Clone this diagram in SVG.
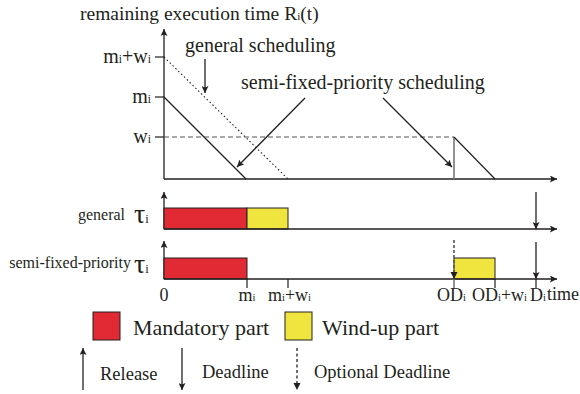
<svg xmlns="http://www.w3.org/2000/svg" width="580" height="394" viewBox="0 0 580 394" font-family="'Liberation Serif','Times New Roman',serif">
<defs>
<marker id="ah" viewBox="0 0 10 10" refX="10" refY="5" markerWidth="7" markerHeight="7" markerUnits="userSpaceOnUse" orient="auto">
<path d="M0,0 L10,5 L0,10 L2,5 Z" fill="#231f20"/>
</marker>
<style>
text{font-family:"Liberation Serif","Times New Roman",serif;fill:#231f20}
.ln{stroke:#231f20;stroke-width:1.2;fill:none}
.ax{stroke:#231f20;stroke-width:1.3;fill:none;marker-end:url(#ah)}
.gr{stroke:#777;stroke-width:1.6;fill:none}
.dash{stroke:#555;stroke-width:1.2;stroke-dasharray:5,3;fill:none}
.dot{stroke:#231f20;stroke-width:1.1;stroke-dasharray:1.5,2.5;fill:none}
.red{fill:#e12a33;stroke:#231f20;stroke-width:1}
.yel{fill:#efe53e;stroke:#231f20;stroke-width:1}
.sub{font-size:0.58em}
.t20{font-size:20px}
.t18{font-size:18px}
.t16{font-size:16px}
.tau{font-size:28px}
.tau .sub{font-size:0.45em}
</style>
</defs>

<g id="top-chart">
<line class="ax" x1="164" y1="179" x2="164" y2="29"/>
<line class="ax" x1="164" y1="179" x2="557" y2="179"/>
<line class="ln" x1="155" y1="57" x2="164" y2="57"/>
<line class="ln" x1="155" y1="97" x2="164" y2="97"/>
<line class="ln" x1="155" y1="137" x2="164" y2="137"/>
<line class="dot" x1="164" y1="57" x2="288" y2="179"/>
<line class="ln" x1="164" y1="97" x2="246" y2="179"/>
<line class="dash" x1="164" y1="137" x2="454" y2="137"/>
<line class="gr" x1="454" y1="137" x2="454" y2="179"/>
<line class="ln" x1="454" y1="137" x2="495" y2="179"/>
<text x="80" y="20" style="font-size:19.5px">remaining execution time R<tspan class="sub">i</tspan>(t)</text>
<text class="t20" x="151" y="63" text-anchor="end">m<tspan class="sub">i</tspan>+w<tspan class="sub">i</tspan></text>
<text class="t20" x="151" y="103" text-anchor="end">m<tspan class="sub">i</tspan></text>
<text class="t20" x="151" y="143" text-anchor="end">w<tspan class="sub">i</tspan></text>
</g>

<g id="label-general-scheduling">
<text class="t20" x="185" y="52">general scheduling</text>
</g>
<g id="label-semi-fixed">
<text class="t20" x="241" y="89">semi-fixed-priority scheduling</text>
</g>

<g id="general-timeline">
<line class="ax" x1="164" y1="229" x2="164" y2="192"/>
<rect class="red" x="164" y="208" width="83" height="21"/>
<rect class="yel" x="247" y="208" width="41" height="21"/>
<line class="ax" x1="164" y1="229" x2="557" y2="229"/>
<text class="t16" x="125" y="220" text-anchor="end">general</text>
<text class="tau" x="134" y="223">τ<tspan class="sub">i</tspan></text>
</g>

<g id="semi-fixed-timeline">
<line class="ax" x1="164" y1="279" x2="164" y2="241"/>
<rect class="red" x="164" y="258" width="83" height="21"/>
<rect class="yel" x="454" y="258" width="41" height="21"/>
<line class="ax" x1="164" y1="279" x2="557" y2="279"/>
<line class="ln" x1="247" y1="279" x2="247" y2="288"/>
<line class="ln" x1="288" y1="279" x2="288" y2="288"/>
<line class="gr" x1="454" y1="279" x2="454" y2="288"/>
<line class="ln" x1="495" y1="279" x2="495" y2="288"/>
<line class="ln" x1="536" y1="279" x2="536" y2="288"/>
<text class="t16" x="131" y="268" text-anchor="end">semi-fixed-priority</text>
<text class="tau" x="134" y="273">τ<tspan class="sub">i</tspan></text>
<text class="t18" x="164" y="301" text-anchor="middle">0</text>
<text class="t18" x="247" y="301" text-anchor="middle">m<tspan class="sub">i</tspan></text>
<text class="t18" x="268" y="301">m<tspan class="sub">i</tspan>+w<tspan class="sub">i</tspan></text>
<text class="t18" x="437" y="301">OD<tspan class="sub">i</tspan></text>
<text class="t18" x="472" y="301">OD<tspan class="sub">i</tspan>+w<tspan class="sub">i</tspan></text>
<text class="t18" x="530" y="301">D<tspan class="sub">i</tspan></text>
<text class="t18" x="547" y="300">time</text>
</g>

<g id="connectors">
<line class="ax" x1="205" y1="59" x2="205" y2="93"/>
<line class="ax" x1="305" y1="98" x2="237" y2="167"/>
<line class="ax" x1="383" y1="98" x2="452" y2="167"/>
<line class="ax" x1="536" y1="192" x2="536" y2="229"/>
<line class="ax" x1="536" y1="242" x2="536" y2="279"/>
<line x1="454" y1="240" x2="454" y2="272" style="stroke:#555;stroke-width:1.6;stroke-dasharray:3,2"/>
<path d="M450.5,272 L457.5,272 L454,279 Z" fill="#231f20"/>
</g>

<g id="legend">
<rect class="red" x="93" y="312" width="27" height="28"/>
<text x="133" y="335" style="font-size:22px">Mandatory part</text>
<rect class="yel" x="285" y="312" width="27" height="28"/>
<text x="322" y="335" style="font-size:22px">Wind-up part</text>
<line class="ax" x1="83" y1="390" x2="83" y2="348"/>
<text x="100" y="380" style="font-size:18.5px">Release</text>
<line class="ax" x1="182" y1="348" x2="182" y2="390"/>
<text x="202" y="378" style="font-size:18.5px">Deadline</text>
<line x1="297" y1="348" x2="297" y2="383" style="stroke:#231f20;stroke-width:1.3;stroke-dasharray:3,2.5"/>
<path d="M293.5,383 L300.5,383 L297,390 Z" fill="#231f20"/>
<text x="314" y="378" style="font-size:18.5px">Optional Deadline</text>
</g>
</svg>
